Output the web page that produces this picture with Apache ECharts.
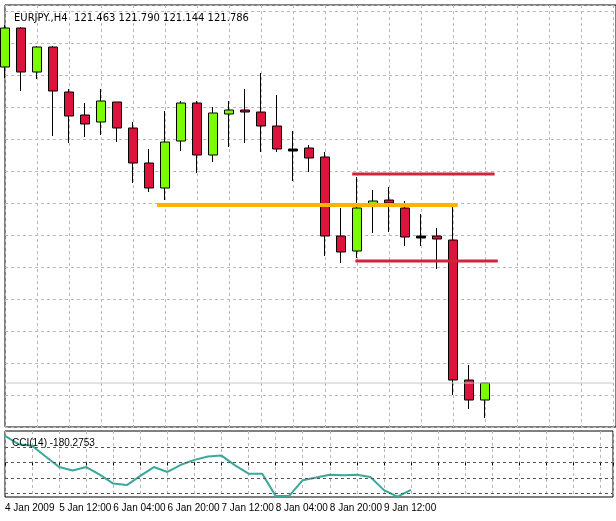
<!DOCTYPE html>
<html>
<head>
<meta charset="utf-8">
<script src="https://cdn.jsdelivr.net/npm/echarts@6/dist/echarts.min.js"></script>
<style>
  html, body { margin: 0; padding: 0; background: #fff; }
  #chart { width: 616px; height: 521px; }
</style>
</head>
<body>
<div id="chart"></div>
<script>
// candle data, in points: [open, close, low, high]
let opens  = [360, 399, 355, 380, 335, 312, 305, 325, 299, 264, 239, 286, 324, 272, 313, 317, 315, 301, 278, 279, 270, 191, 176, 223, 227, 219, 191, 191, 187, 47, 27];
let closes = [399, 355, 380, 336, 311, 303, 326, 299, 264, 239, 285, 324, 272, 314, 317, 315, 301, 278, 277, 269, 191, 175, 219, 226, 224, 190, 190, 188, 47, 27, 44];
let lows   = [349, 336, 348, 291, 284, 290, 292, 285, 244, 235, 227, 276, 254, 265, 280, 284, 275, 275, 246, 255, 171, 164, 169, 194, 195, 181, 181, 158, 32, 18, 9];
let highs  = [402, 400, 381, 381, 338, 324, 338, 325, 305, 278, 316, 326, 326, 320, 326, 338, 354, 332, 296, 282, 275, 219, 250, 237, 240, 226, 213, 199, 224, 62, 44];
let dojis = [18, 26];

let cciValues = [174, 120, 110, 39, -30, -52, -30, -80, -138, -148, -88, -30, -62, -15, 17, 39, 45, -19, -73, -73, -219, -219, -116, -99, -80, -84, -80, -95, -181, -224, -180];
let cciLevels = [100, 0, -100, -200];

let dateLabels = ["4 Jan 2009", "5 Jan 12:00", "6 Jan 04:00", "6 Jan 20:00", "7 Jan 12:00", "8 Jan 04:00", "8 Jan 20:00", "9 Jan 12:00"];

// drawn lines: [startIndex, endIndex, level]
let orangeLine = [9.5, 28.3, 222];
let redUpper = [21.7, 30.6, 253];
let redLower = [21.9, 30.8, 166];
let lastPrice = 44;

let candleData = opens.map(function (o, i) {
    let item = { value: [i, o, closes[i], lows[i], highs[i]] };
    if (dojis.indexOf(i) >= 0) {
        item.value[2] = o - 2;
        item.itemStyle = { color: '#000', color0: '#000', borderColor: '#000', borderColor0: '#000' };
    }
    return item;
});

let myChart = echarts.init(document.getElementById('chart'), null, { renderer: 'canvas' });

let dash = { color: '#b8b8b8', type: [3, 3], width: 1 };

let option = {
    backgroundColor: '#fff',
    animation: false,
    title: [
        { text: 'EURJPY.,H4  121.463 121.790 121.144 121.786', left: 9, top: 8,
          textStyle: { fontFamily: 'DejaVu Sans', fontSize: 10, fontWeight: 'normal', color: '#000' } },
        { text: 'CCI(14) -180.2753', left: 7, top: 433,
          textStyle: { fontFamily: 'Liberation Sans', fontSize: 10, fontWeight: 'normal', color: '#000' } }
    ],
    grid: [
        { left: 5, right: 0, top: 5, bottom: 94, show: true, borderColor: '#000', borderWidth: 1 },
        { left: 5, right: 0, top: 431, bottom: 24, show: true, borderColor: '#000', borderWidth: 1 }
    ],
    xAxis: [
        { type: 'value', gridIndex: 0, min: 0, max: 611 / 16, interval: 2,
          axisLine: { show: false }, axisTick: { show: false }, axisLabel: { show: false },
          splitLine: { show: true, lineStyle: dash } },
        { type: 'value', gridIndex: 1, min: 0, max: 611 / 13.6, interval: 2,
          axisLine: { show: false },
          axisTick: { show: true, length: 3, lineStyle: { color: '#000' } },
          axisLabel: {
              show: true, fontFamily: 'Liberation Sans', fontSize: 10, color: '#000', align: 'left', margin: 6,
              formatter: function (v) {
                  if (v % 4 !== 0) return '';
                  return dateLabels[v / 4] || '';
              }
          },
          splitLine: { show: true, lineStyle: dash } }
    ],
    yAxis: [
        { type: 'value', gridIndex: 0, min: 0, max: 422, interval: 32,
          axisLine: { show: false }, axisTick: { show: false }, axisLabel: { show: false },
          splitLine: { show: true, lineStyle: dash } },
        { type: 'value', gridIndex: 1, min: -226, max: 206,
          axisLine: { show: false }, axisTick: { show: false }, axisLabel: { show: false },
          splitLine: { show: false } }
    ],
    series: [
        {
            type: 'line', xAxisIndex: 0, yAxisIndex: 0, symbol: 'none', silent: true,
            data: [[0, lastPrice], [38, lastPrice]],
            lineStyle: { color: '#c8c8c8', width: 1 }
        },
        {
            type: 'candlestick', xAxisIndex: 0, yAxisIndex: 0,
            encode: { x: 0, y: [1, 2, 3, 4] },
            barWidth: 10,
            data: candleData,
            itemStyle: {
                color: '#7cfc00', color0: '#dc143c',
                borderColor: '#000', borderColor0: '#000', borderWidth: 1
            }
        },
        {
            type: 'line', xAxisIndex: 0, yAxisIndex: 0, symbol: 'none',
            data: [[orangeLine[0], orangeLine[2]], [orangeLine[1], orangeLine[2]]],
            lineStyle: { color: '#ffb300', width: 4 }
        },
        {
            type: 'line', xAxisIndex: 0, yAxisIndex: 0, symbol: 'none',
            data: [[redUpper[0], redUpper[2]], [redUpper[1], redUpper[2]]],
            lineStyle: { color: '#d0243a', width: 3 }
        },
        {
            type: 'line', xAxisIndex: 0, yAxisIndex: 0, symbol: 'none',
            data: [[redLower[0], redLower[2]], [redLower[1], redLower[2]]],
            lineStyle: { color: '#d0243a', width: 3 }
        },
        {
            type: 'line', xAxisIndex: 1, yAxisIndex: 1, symbol: 'none',
            data: cciValues.map(function (v, i) { return [i, v]; }),
            lineStyle: { color: '#3aa99a', width: 2 },
            markLine: {
                silent: true, symbol: 'none', label: { show: false },
                lineStyle: { color: '#555', type: [3, 3], width: 1 },
                data: cciLevels.map(function (l) { return { yAxis: l }; })
            }
        }
    ]
};

myChart.setOption(option);
</script>
</body>
</html>
